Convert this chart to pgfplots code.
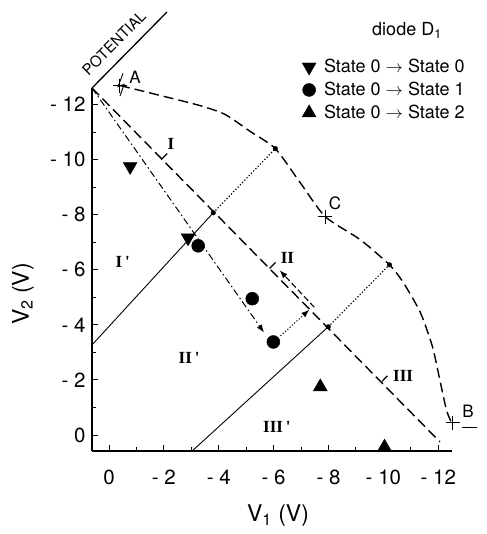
\documentclass[border=0pt]{standalone}
\usepackage{pgfplots}
\pgfplotsset{compat=1.18}
\usetikzlibrary{arrows.meta}
\usepackage{fontspec}
\setmainfont{TeX Gyre Heros}
\newfontfamily\romanfont{Liberation Serif}
\begin{document}
\begin{tikzpicture}
\useasboundingbox (-92pt,-83pt) rectangle (394pt,451pt);
\begin{axis}[
  at={(0pt,0pt)}, anchor=south west,
  width=360pt, height=363pt, scale only axis,
  xmin=-0.62, xmax=12.5, ymin=-0.58, ymax=12.6,
  axis lines=left, axis line style={-, line width=2pt},
  xtick={0,2,...,12}, xticklabels={0,- 2,- 4,- 6,- 8,- 10,- 12},
  ytick={0,2,...,12}, yticklabels={0,- 2,- 4,- 6,- 8,- 10,- 12},
  minor xtick={1,3,...,11}, minor ytick={1,3,...,11},
  tick align=inside, major tick length=6pt, minor tick length=4pt,
  every tick/.style={black, line width=1pt},
  /pgf/number format/assume math mode=true,
  tick label style={font=\fontsize{20.5}{24}\selectfont},
  xticklabel style={yshift=-15pt},
  yticklabel style={xshift=-3pt},
  clip=false,
  legend style={at={(rel axis cs:0.575,1.09)}, anchor=north west, draw=none, fill=none,
    font=\fontsize{18}{21}\selectfont, row sep=4pt, column sep=6pt, nodes={inner sep=2pt}},
  legend cell align=left,
]
% dashed envelope curve A - C - B
\addplot[black, line width=1.4pt, dash pattern=on 10pt off 5pt, smooth, tension=0.4, forget plot]
  coordinates {(0.40,12.69) (1.86,12.33) (3.32,11.96) (4.23,11.64) (5.15,11.02) (6.06,10.40)
  (6.97,9.16) (7.88,7.93) (9.16,7.09) (10.22,6.18) (10.73,5.53) (11.35,4.44) (11.79,3.20)
  (12.08,1.89) (12.30,0.90) (12.48,0.45)};
% dashed main diagonal
\addplot[black, line width=1.4pt, dash pattern=on 10pt off 5pt, forget plot]
  coordinates {(-0.62,12.6) (12.06,-0.25)};
% dash-dot trajectory
\addplot[black, line width=1pt, dash pattern=on 7pt off 3pt on 1.5pt off 3pt, -{Latex[length=8pt,width=6pt]}, forget plot]
  coordinates {(-0.62,12.6) (5.65,3.72)};
% dotted arrow
\addplot[black, line width=1.1pt, dotted, -{Latex[length=8pt,width=6pt]}, forget plot]
  coordinates {(6.25,3.60) (7.30,4.55)};
% parallel dashed arrow
\addplot[black, line width=1.1pt, dash pattern=on 6pt off 3pt, -{Latex[length=8pt,width=6pt]}, forget plot]
  coordinates {(7.48,4.64) (6.22,5.98)};
% solid boundaries
\addplot[black, line width=0.9pt, forget plot] coordinates {(3.80,8.07) (-0.62,3.27)};
\addplot[black, line width=0.9pt, forget plot] coordinates {(7.99,3.93) (3.03,-0.58)};
% dotted connectors
\addplot[black, line width=1.2pt, dotted, forget plot] coordinates {(3.80,8.07) (6.06,10.40)};
\addplot[black, line width=1.2pt, dotted, forget plot] coordinates {(7.99,3.93) (10.22,6.18)};
% small dots
\addplot[only marks, mark=*, mark size=2.3pt, black, forget plot]
  coordinates {(3.80,8.07) (7.99,3.93) (6.06,10.40) (10.22,6.18)};
% crosses A, C, B
\addplot[only marks, mark=+, mark size=7pt, black, line width=1pt, forget plot]
  coordinates {(0.40,12.69) (7.88,7.93) (12.52,0.44)};
% data markers
\addplot[only marks, mark=triangle*, mark size=8pt, mark options={rotate=180}, black]
  coordinates {(0.77,9.75) (2.88,7.16)};
\addlegendentry{State 0 $\rightarrow$ State 0}
\addplot[only marks, mark=*, mark size=6.5pt, black]
  coordinates {(3.25,6.87) (5.22,4.95) (5.99,3.38)};
\addlegendentry{State 0 $\rightarrow$ State 1}
\addplot[only marks, mark=triangle*, mark size=8pt, black]
  coordinates {(7.70,1.75) (10.04,-0.44)};
\addlegendentry{State 0 $\rightarrow$ State 2}
% perpendicular ticks on diagonal
\draw[line width=1.2pt] (axis cs:1.90,10.00) -- (axis cs:2.12,10.22);
\draw[line width=1.2pt] (axis cs:5.85,6.05) -- (axis cs:6.07,6.27);
\draw[line width=1.2pt] (axis cs:9.95,1.95) -- (axis cs:10.15,2.15);
% zigzag above A and dash after B
\draw[line width=0.9pt] (axis cs:0.51,13.13) -- (axis cs:0.33,12.65) -- (axis cs:0.55,12.73) -- (axis cs:0.40,12.31);
\draw[line width=1pt] (axis cs:12.86,0.29) -- (axis cs:13.41,0.29);
% point labels
\node[font=\fontsize{17}{20}\selectfont] at (axis cs:0.95,13.00) {A};
\node[font=\fontsize{17}{20}\selectfont] at (axis cs:8.24,8.42) {C};
\node[font=\fontsize{17}{20}\selectfont] at (axis cs:13.08,0.86) {B};
% region labels
\node[font=\romanfont\bfseries\fontsize{17}{20}\selectfont] at (axis cs:2.26,10.58) {I};
\node[font=\romanfont\bfseries\fontsize{17}{20}\selectfont] at (axis cs:0.50,6.30) {I\,'};
\node[font=\romanfont\bfseries\fontsize{17}{20}\selectfont] at (axis cs:6.50,6.44) {II};
\node[font=\romanfont\bfseries\fontsize{17}{20}\selectfont] at (axis cs:2.92,2.80) {II\,'};
\node[font=\romanfont\bfseries\fontsize{17}{20}\selectfont] at (axis cs:10.72,2.15) {III};
\node[font=\romanfont\bfseries\fontsize{17}{20}\selectfont] at (axis cs:6.12,0.29) {III\,'};
\end{axis}
% POTENTIAL corner
\draw[line width=1.3pt] (0pt,363pt) -- (75pt,439pt);
\node[rotate=45, font=\fontsize{15}{18}\selectfont] at (22pt,408pt) {POTENTIAL};
% legend title
\node[font=\fontsize{18}{21}\selectfont] at (315pt,421pt) {diode D\textsubscript{1}};
% axis labels
\node[font=\fontsize{23}{27}\selectfont] at (186pt,-65pt) {V\textsubscript{1} (V)};
\node[rotate=90, font=\fontsize{23}{27}\selectfont] at (-69pt,157pt) {V\textsubscript{2} (V)};
\end{tikzpicture}
\end{document}
